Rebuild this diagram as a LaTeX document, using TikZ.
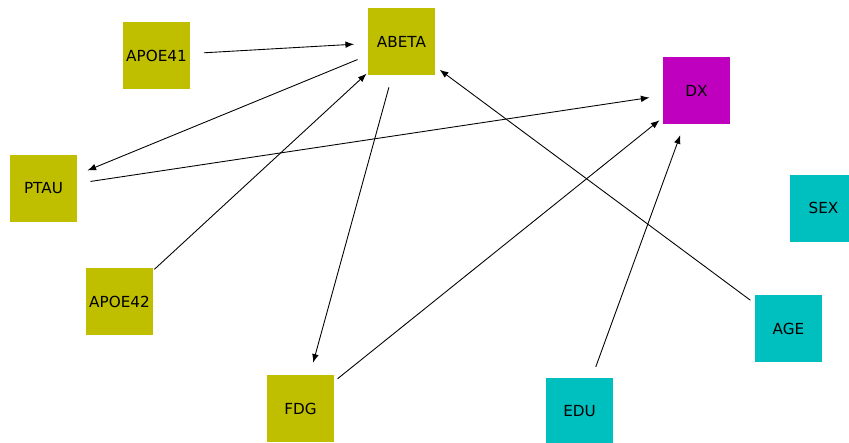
\documentclass[tikz,border=0pt]{standalone}
\usepackage{fontspec}
\setmainfont{DejaVu Sans}
\usepackage{tikz}
\usetikzlibrary{arrows.meta}

\definecolor{olive}{RGB}{191,191,0}
\definecolor{magen}{RGB}{191,0,191}
\definecolor{cyn}{RGB}{0,191,191}

\begin{document}
\begin{tikzpicture}[x=0.03cm, y=-0.03cm,
		var/.style={circle, minimum size=2.85cm, inner sep=0pt, outer sep=0pt,
			path picture={\fill[#1] (path picture bounding box.center) +(-1.005cm,-1.005cm) rectangle +(1.005cm,1.005cm);},
			font=\fontsize{13pt}{15pt}\selectfont},
		link/.style={-{Latex[length=2.6mm,width=2mm]}, line width=0.75pt}]
		\useasboundingbox (0,0) rectangle (849,442);
		\node[var=olive] (apoe41) at (156.5,55.5) {APOE41};
		\node[var=olive] (abeta) at (401.5,41.5) {ABETA};
		\node[var=magen] (dx) at (696.5,90.5) {DX};
		\node[var=olive] (ptau) at (43.5,188.5) {PTAU};
		\node[var=cyn] (sex) at (823.5,208) {SEX};
		\node[var=olive] (apoe42) at (119.5,301.5) {APOE42};
		\node[var=cyn] (age) at (788.5,328.5) {AGE};
		\node[var=olive] (fdg) at (300.5,408.5) {FDG};
		\node[var=cyn] (edu) at (579.5,411.5) {EDU};
		\path[link]
		(apoe41) edge (abeta)
		(abeta) edge (ptau)
		(ptau) edge (dx)
		(apoe42) edge (abeta)
		(abeta) edge (fdg)
		(fdg) edge (dx)
		(edu) edge (dx)
		(age) edge (abeta);
	\end{tikzpicture}
\end{document}
